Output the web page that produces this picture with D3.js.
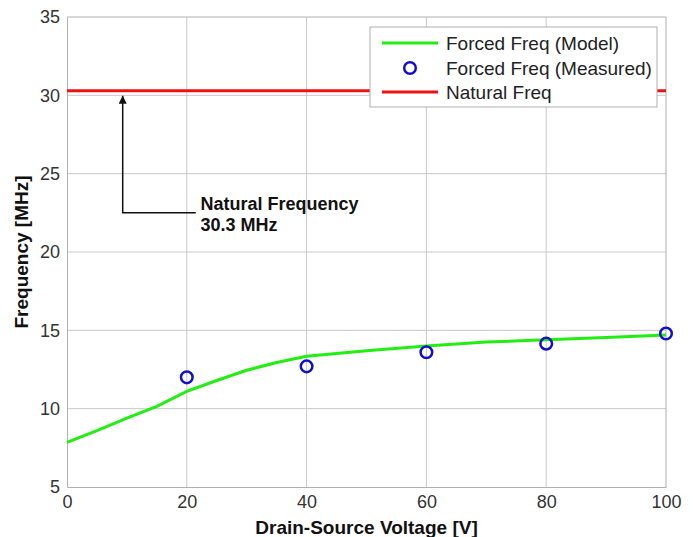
<!DOCTYPE html>
<html><head><meta charset="utf-8">
<script src="https://cdn.jsdelivr.net/npm/d3@7"></script>
<style>body{margin:0;background:#fff}svg{display:block}text{font-family:"Liberation Sans",Arial,sans-serif}</style>
</head><body><svg id="c" width="694" height="537"></svg>
<script>
const xTicks = [0, 20, 40, 60, 80, 100];
const yTicks = [5, 10, 15, 20, 25, 30, 35];
const modelV = [0, 5, 10, 15, 20, 25, 30, 35, 40, 50, 60, 70, 80, 90, 100];
const modelF = [7.85, 8.6, 9.4, 10.15, 11.1, 11.8, 12.45, 12.95, 13.35, 13.7, 14.0, 14.25, 14.4, 14.55, 14.7];
const measV = [20, 40, 60, 80, 100];
const measF = [12.0, 12.7, 13.6, 14.15, 14.8];
const naturalFreq = 30.3;
const legendLabels = ["Forced Freq (Model)", "Forced Freq (Measured)", "Natural Freq"];
const annotationLines = ["Natural Frequency", "30.3 MHz"];

const svg = d3.select("#c");
const L = 67, R = 666, T = 17, B = 487;
const x = d3.scaleLinear().domain([0, 100]).range([L, R]);
const y = d3.scaleLinear().domain([5, 35]).range([B, T]);

// grid
svg.append("g").selectAll("line").data(xTicks.slice(1, -1)).join("line")
  .attr("x1", d => x(d)).attr("x2", d => x(d)).attr("y1", T).attr("y2", B)
  .attr("stroke", "#c8c8c8").attr("stroke-width", 1);
svg.append("g").selectAll("line").data(yTicks.slice(1, -1)).join("line")
  .attr("y1", d => y(d)).attr("y2", d => y(d)).attr("x1", L).attr("x2", R)
  .attr("stroke", "#c8c8c8").attr("stroke-width", 1);

// axes
const xAxis = svg.append("g").attr("transform", `translate(0,${B})`)
  .call(d3.axisBottom(x).tickValues(xTicks).tickSize(0).tickPadding(7));
const yAxis = svg.append("g").attr("transform", `translate(${L},0)`)
  .call(d3.axisLeft(y).tickValues(yTicks).tickSize(0).tickPadding(7));
[xAxis, yAxis].forEach(a => {
  a.select(".domain").attr("stroke", "#b0b0b0");
  a.selectAll("text").attr("font-size", 18).attr("fill", "#333").attr("font-family", "Liberation Sans, Arial, sans-serif");
});
xAxis.selectAll("text").attr("dy", "0.75em");
// box top/right
svg.append("line").attr("x1", L).attr("x2", R).attr("y1", T).attr("y2", T).attr("stroke", "#b0b0b0");
svg.append("line").attr("x1", R).attr("x2", R).attr("y1", T).attr("y2", B).attr("stroke", "#b0b0b0");

// natural freq line
svg.append("line").attr("x1", x(0)).attr("x2", x(100)).attr("y1", y(naturalFreq)).attr("y2", y(naturalFreq))
  .attr("stroke", "#ee1111").attr("stroke-width", 3);

// model curve
const model = modelV.map((v, i) => [v, modelF[i]]);
svg.append("path").datum(model)
  .attr("d", d3.line().x(d => x(d[0])).y(d => y(d[1])))
  .attr("fill", "none").attr("stroke", "#22ee11").attr("stroke-width", 3);

// measured
svg.append("g").selectAll("circle").data(measV.map((v, i) => [v, measF[i]])).join("circle")
  .attr("cx", d => x(d[0])).attr("cy", d => y(d[1])).attr("r", 5.8)
  .attr("fill", "none").attr("stroke", "#1010cc").attr("stroke-width", 2.5);

// annotation
const ax = x(9.3), ay = y(22.5);
svg.append("defs").append("marker").attr("id", "ah").attr("viewBox", "0 0 10 10")
  .attr("refX", 10).attr("refY", 5).attr("markerWidth", 8).attr("markerHeight", 8)
  .attr("markerUnits", "userSpaceOnUse").attr("orient", "auto")
  .append("path").attr("d", "M0,0 L10,5 L0,10 Z").attr("fill", "#111");
svg.append("path").attr("d", `M${x(21.5)},${ay} H${ax} V${y(naturalFreq) + 5}`)
  .attr("fill", "none").attr("stroke", "#111").attr("stroke-width", 1.5).attr("marker-end", "url(#ah)");
svg.append("g").selectAll("text").data(annotationLines).join("text")
  .attr("x", x(22.3)).attr("y", (d, i) => 210 + i * 21)
  .attr("font-size", 18).attr("font-weight", "bold").attr("fill", "#111").text(d => d);

// legend
const lg = svg.append("g");
lg.append("rect").attr("x", 370).attr("y", 27).attr("width", 287).attr("height", 80)
  .attr("fill", "#fff").attr("stroke", "#b0b0b0");
const rowsY = [43, 68, 92];
lg.append("line").attr("x1", 382).attr("x2", 438).attr("y1", rowsY[0]).attr("y2", rowsY[0]).attr("stroke", "#22ee11").attr("stroke-width", 3);
lg.append("circle").attr("cx", 410).attr("cy", rowsY[1]).attr("r", 5.8).attr("fill", "none").attr("stroke", "#1010cc").attr("stroke-width", 2.5);
lg.append("line").attr("x1", 382).attr("x2", 438).attr("y1", rowsY[2]).attr("y2", rowsY[2]).attr("stroke", "#ee1111").attr("stroke-width", 3);
lg.selectAll("text").data(legendLabels).join("text")
  .attr("x", 446).attr("y", (d, i) => rowsY[i]).attr("dy", "0.35em")
  .attr("font-size", 19).attr("fill", "#222").text(d => d);

// axis titles
svg.append("text").attr("x", x(50)).attr("y", 534).attr("text-anchor", "middle")
  .attr("font-size", 19).attr("font-weight", "bold").attr("fill", "#111").text("Drain-Source Voltage [V]");
svg.append("text").attr("transform", `translate(28,${(T + B) / 2}) rotate(-90)`).attr("text-anchor", "middle")
  .attr("font-size", 19).attr("font-weight", "bold").attr("fill", "#111").text("Frequency [MHz]");
</script></body></html>
